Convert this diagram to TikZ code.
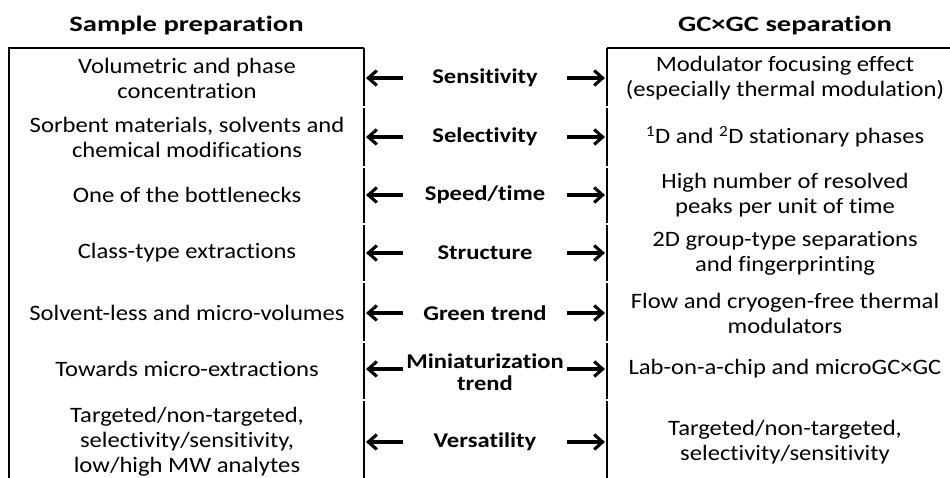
\documentclass[tikz,border=0pt]{standalone}
\usepackage{fontspec}
\setmainfont{Carlito}[FakeStretch=1.12, Ligatures=NoCommon]
\newfontfamily\midfont{Carlito}[FakeStretch=1.17, Ligatures=NoCommon]
\newfontfamily\headfont{Carlito}[FakeStretch=1.3, Ligatures=NoCommon]
\usetikzlibrary{arrows.meta}

\tikzset{
  frame/.style={draw=black, line width=1.8pt},
  heading/.style={font=\headfont\fontsize{22}{25}\selectfont\bfseries, align=center},
  celltext/.style={font=\fontsize{22}{25}\selectfont, align=center},
  criterion/.style={font=\midfont\fontsize{21}{22}\selectfont\bfseries, align=center},
  arr/.style={line width=3.1pt, -{Straight Barb[length=8.5pt,width=15pt]}},
}

\begin{document}
\begin{tikzpicture}[x=1pt,y=-1pt]
  \useasboundingbox (0,0) rectangle (950,478);
  \fill[white] (0,0) rectangle (950,478);

  % column headings
  \node[heading] (hL) at (186.5,26) {Sample preparation};
  \node[heading] (hR) at (785,26) {GC×GC separation};

  % outer frames: open at the bottom, right frame runs off to the right
  \draw[frame] (9,478) -- (9,48) -- (364,48);
  \draw[frame] (607,48) -- (950,48);

  % inner borders drawn cell by cell, leaving hairline gaps between rows
  \foreach \xa in {364,607}{
    \foreach \ya/\yb in {48/106.3,107.7/166.3,167.7/223.3,224.7/281.3,282.7/341.3,342.7/399.3,400.7/478}{
      \draw[frame, line cap=butt] (\xa,\ya) -- (\xa,\yb);
    }
  }

  % arrow end points for each row
  \foreach \n/\y in {1/78,2/137,3/195,4/253,5/313,6/369,7/442}{
    \coordinate (L\n) at (366,\y);
    \coordinate (aL\n) at (403,\y);
    \coordinate (aR\n) at (567,\y);
    \coordinate (R\n) at (605,\y);
  }

  % left column
  \node[celltext] (l1) at (187,78) {Volumetric and phase\\concentration};
  \node[celltext] (l2) at (187,137) {Sorbent materials, solvents and\\chemical modifications};
  \node[celltext] (l3) at (187,195) {One of the bottlenecks};
  \node[celltext] (l4) at (187,253) {Class-type extractions};
  \node[celltext] (l5) at (187,313) {Solvent-less and micro-volumes};
  \node[celltext] (l6) at (187,369) {Towards micro-extractions};
  \node[celltext] (l7) at (187,442) {Targeted/non-targeted,\\selectivity/sensitivity,\\low/high MW analytes};

  % middle column
  \node[criterion] (m1) at (485,78) {Sensitivity};
  \node[criterion] (m2) at (485,137) {Selectivity};
  \node[criterion] (m3) at (485,195) {Speed/time};
  \node[criterion] (m4) at (485,253) {Structure};
  \node[criterion] (m5) at (485,313) {Green trend};
  \node[criterion] (m6) at (485,372) {Miniaturization\\trend};
  \node[criterion] (m7) at (485,442) {Versatility};

  % right column
  \node[celltext] (r1) at (785,78) {Modulator focusing effect\\(especially thermal modulation)};
  \node[celltext] (r2) at (785,137) {\textsuperscript{1}D and \textsuperscript{2}D stationary phases};
  \node[celltext] (r3) at (785,195) {High number of resolved\\peaks per unit of time};
  \node[celltext] (r4) at (785,253) {2D group-type separations\\and fingerprinting};
  \node[celltext] (r5) at (785,313) {Flow and cryogen-free thermal\\modulators};
  \node[celltext] (r6) at (785,369) {Lab-on-a-chip and microGC×GC};
  \node[celltext] (r7) at (785,442) {Targeted/non-targeted,\\selectivity/sensitivity};

  % arrows from each criterion to both frames
  \foreach \n in {1,...,7}{
    \draw[arr] (aL\n) -- (L\n);
    \draw[arr] (aR\n) -- (R\n);
  }
\end{tikzpicture}
\end{document}
